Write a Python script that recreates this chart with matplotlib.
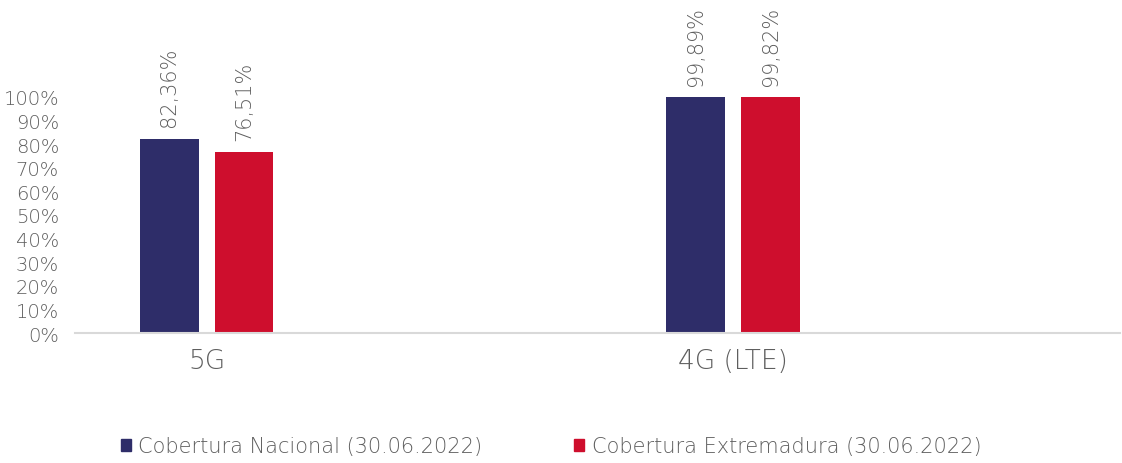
import numpy as np
import matplotlib
matplotlib.use('Agg')
import matplotlib.pyplot as plt
from matplotlib.patches import Patch

# datos
categorias = ['5G', '4G (LTE)']
nacional = [82.36, 99.89]
extremadura = [76.51, 99.82]
series = ['Cobertura Nacional (30.06.2022)', 'Cobertura Extremadura (30.06.2022)']
yticks = list(range(0, 101, 10))

azul = '#2E2D69'
rojo = '#CE0E2D'
gris = '#5E5E5E'

plt.rcParams['font.family'] = ['DejaVu Sans']
plt.rcParams['font.weight'] = 'light'

fig = plt.figure(figsize=(11.22, 4.64), dpi=100)
ax = fig.add_axes([75 / 1122, 130 / 464, 1045 / 1122, 236 / 464])

x = np.arange(len(categorias))
w = 0.112
off = 0.0712
b1 = ax.bar(x - off, nacional, w, color=azul)
b2 = ax.bar(x + off, extremadura, w, color=rojo)

# etiquetas de datos
for bars, vals in [(b1, nacional), (b2, extremadura)]:
    for b, v in zip(bars, vals):
        txt = f'{v:.2f}'.replace('.', ',') + '%'
        ax.annotate(txt, (b.get_x() + b.get_width() / 2, v), xytext=(0, 9),
                    textcoords='offset points', rotation=90, ha='center', va='bottom',
                    fontsize=15, color=gris, annotation_clip=False)

ax.set_xlim(-0.2498, 1.735)
ax.set_ylim(0, 100)
ax.set_yticks(yticks)
ax.set_yticklabels([f'{t}%' for t in yticks])
ax.set_xticks(x)
ax.set_xticklabels(categorias)
ax.tick_params(axis='y', length=0, pad=11.5, labelsize=14, labelcolor=gris)
ax.tick_params(axis='x', length=0, pad=11, labelsize=19, labelcolor=gris)

for s in ['top', 'right', 'left']:
    ax.spines[s].set_visible(False)
ax.spines['bottom'].set_color('#D9D9D9')
ax.spines['bottom'].set_linewidth(1.5)

handles = [Patch(color=azul), Patch(color=rojo)]
fig.legend(handles, series, loc='center', bbox_to_anchor=(551 / 1122, 17 / 464), ncol=2,
           frameon=False, fontsize=15, labelcolor=gris, handlelength=0.5, handleheight=0.5,
           handletextpad=0.35, columnspacing=4.4)

fig.savefig('out.png', dpi=100)
